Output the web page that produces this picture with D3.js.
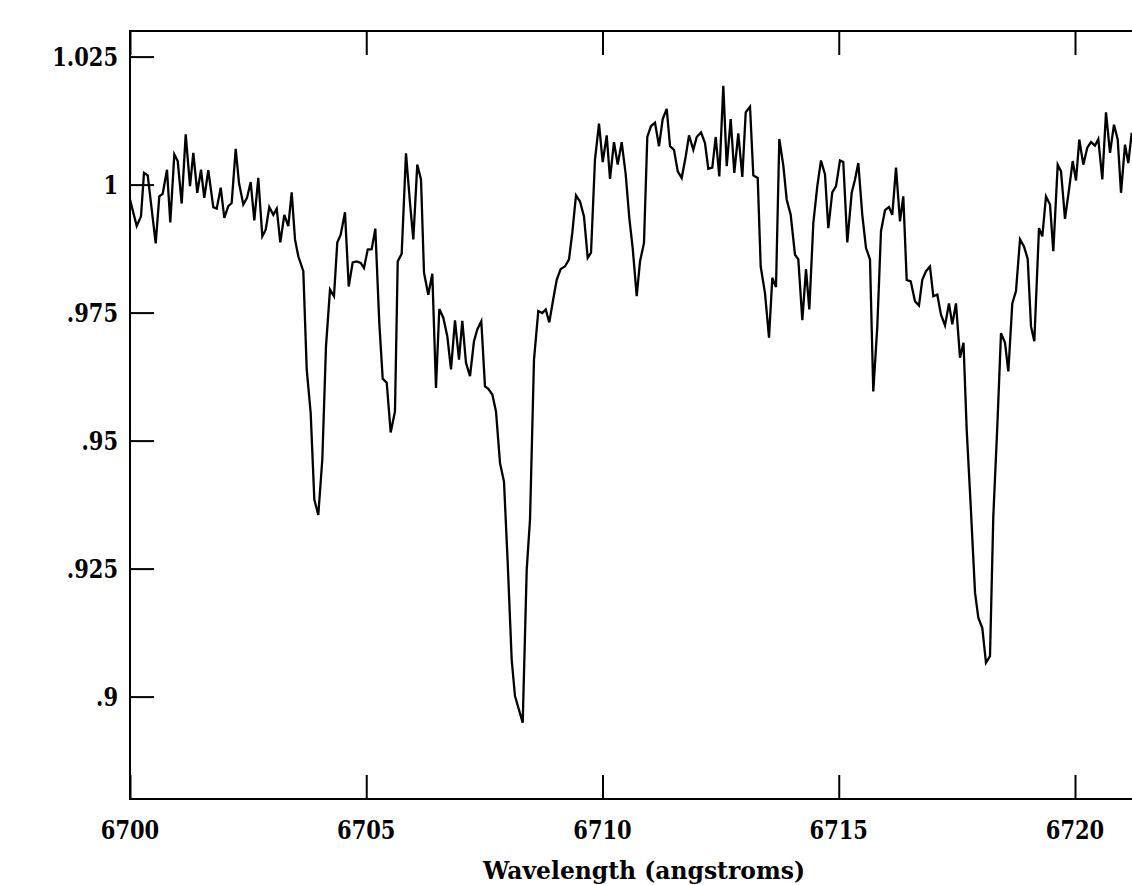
<!DOCTYPE html>
<html>
<head>
<meta charset="utf-8">
<script src="https://cdn.jsdelivr.net/npm/d3@7"></script>
<style>
  html, body { margin: 0; padding: 0; background: #fff; overflow: hidden; }
  .tick-label { font-family: "DejaVu Serif", serif; font-weight: bold; font-size: 21px; fill: #000; }
  .axis-title { font-family: "DejaVu Serif", serif; font-weight: bold; font-size: 22px; fill: #000; }
</style>
</head>
<body>
<svg id="chart" width="1132" height="885"></svg>
<script>
// Spectrum near 6700-6721 A
const wavelength = [
  6700.000, 6700.142, 6700.233, 6700.296, 6700.375, 6700.544, 6700.620, 6700.692, 6700.783, 6700.853,
  6700.938, 6701.010, 6701.094, 6701.179, 6701.270, 6701.340, 6701.424, 6701.503, 6701.572, 6701.657,
  6701.763, 6701.835, 6701.920, 6701.996, 6702.080, 6702.152, 6702.237, 6702.307, 6702.398, 6702.476,
  6702.554, 6702.631, 6702.715, 6702.800, 6702.872, 6702.948, 6703.033, 6703.105, 6703.181, 6703.266,
  6703.350, 6703.422, 6703.492, 6703.562, 6703.668, 6703.740, 6703.824, 6703.901, 6703.985, 6704.070,
  6704.148, 6704.233, 6704.317, 6704.387, 6704.459, 6704.550, 6704.629, 6704.713, 6704.798, 6704.883,
  6704.952, 6705.031, 6705.115, 6705.192, 6705.276, 6705.348, 6705.433, 6705.517, 6705.608, 6705.666,
  6705.750, 6705.841, 6705.926, 6705.996, 6706.080, 6706.159, 6706.222, 6706.313, 6706.398, 6706.476,
  6706.546, 6706.631, 6706.715, 6706.794, 6706.878, 6706.963, 6707.033, 6707.111, 6707.196, 6707.280,
  6707.350, 6707.435, 6707.513, 6707.583, 6707.668, 6707.746, 6707.831, 6707.915, 6707.994, 6708.078,
  6708.148, 6708.311, 6708.396, 6708.466, 6708.550, 6708.641, 6708.726, 6708.798, 6708.874, 6708.959,
  6709.031, 6709.115, 6709.206, 6709.291, 6709.361, 6709.439, 6709.524, 6709.608, 6709.687, 6709.757,
  6709.841, 6709.926, 6710.004, 6710.089, 6710.159, 6710.243, 6710.322, 6710.406, 6710.491, 6710.567,
  6710.639, 6710.724, 6710.794, 6710.878, 6710.948, 6711.026, 6711.111, 6711.196, 6711.274, 6711.359,
  6711.429, 6711.513, 6711.592, 6711.676, 6711.761, 6711.831, 6711.922, 6711.994, 6712.085, 6712.169,
  6712.239, 6712.324, 6712.396, 6712.472, 6712.557, 6712.629, 6712.713, 6712.789, 6712.874, 6712.959,
  6713.031, 6713.122, 6713.192, 6713.285, 6713.348, 6713.439, 6713.524, 6713.594, 6713.672, 6713.742,
  6713.827, 6713.898, 6713.983, 6714.074, 6714.144, 6714.229, 6714.307, 6714.377, 6714.462, 6714.546,
  6714.624, 6714.709, 6714.779, 6714.863, 6714.942, 6715.026, 6715.096, 6715.181, 6715.274, 6715.344,
  6715.414, 6715.498, 6715.577, 6715.661, 6715.731, 6715.816, 6715.894, 6715.979, 6716.063, 6716.133,
  6716.212, 6716.296, 6716.366, 6716.438, 6716.523, 6716.614, 6716.698, 6716.768, 6716.847, 6716.931,
  6717.001, 6717.086, 6717.164, 6717.249, 6717.333, 6717.403, 6717.481, 6717.566, 6717.640, 6717.708,
  6717.793, 6717.884, 6717.954, 6718.038, 6718.116, 6718.201, 6718.271, 6718.356, 6718.434, 6718.519,
  6718.589, 6718.673, 6718.751, 6718.836, 6718.921, 6718.999, 6719.069, 6719.139, 6719.238, 6719.308,
  6719.386, 6719.471, 6719.541, 6719.634, 6719.704, 6719.788, 6719.873, 6719.951, 6720.021, 6720.091,
  6720.176, 6720.260, 6720.339, 6720.423, 6720.493, 6720.578, 6720.656, 6720.741, 6720.825, 6720.904,
  6720.974, 6721.058, 6721.128, 6721.200, 6721.270
];

const flux = [
  0.9971, 0.9919, 0.9938, 1.0023, 1.0018, 0.9885, 0.9977, 0.9982, 1.0029, 0.9926,
  1.0059, 1.0046, 0.9963, 1.0098, 0.9997, 1.0062, 0.9984, 1.0029, 0.9974, 1.0028,
  0.9956, 0.9953, 0.9994, 0.9935, 0.9958, 0.9964, 1.0070, 1.0003, 0.9961, 0.9974,
  1.0005, 0.9930, 1.0013, 0.9899, 0.9912, 0.9956, 0.9941, 0.9953, 0.9887, 0.9941,
  0.9919, 0.9985, 0.9893, 0.9860, 0.9831, 0.9639, 0.9554, 0.9385, 0.9355, 0.9463,
  0.9684, 0.9795, 0.9782, 0.9887, 0.9902, 0.9946, 0.9801, 0.9848, 0.9850, 0.9847,
  0.9837, 0.9873, 0.9874, 0.9914, 0.9730, 0.9621, 0.9613, 0.9516, 0.9557, 0.9850,
  0.9865, 1.0061, 0.9964, 0.9893, 1.0039, 1.0010, 0.9828, 0.9785, 0.9826, 0.9603,
  0.9757, 0.9740, 0.9704, 0.9639, 0.9735, 0.9658, 0.9734, 0.9652, 0.9626, 0.9694,
  0.9717, 0.9733, 0.9606, 0.9601, 0.9590, 0.9557, 0.9456, 0.9420, 0.9261, 0.9072,
  0.9001, 0.8949, 0.9248, 0.9346, 0.9658, 0.9753, 0.9749, 0.9756, 0.9731, 0.9777,
  0.9814, 0.9835, 0.9840, 0.9854, 0.9906, 0.9979, 0.9967, 0.9938, 0.9857, 0.9867,
  1.0049, 1.0119, 1.0044, 1.0096, 1.0011, 1.0083, 1.0039, 1.0083, 1.0020, 0.9935,
  0.9876, 0.9782, 0.9850, 0.9886, 1.0093, 1.0114, 1.0121, 1.0075, 1.0128, 1.0148,
  1.0075, 1.0068, 1.0026, 1.0013, 1.0055, 1.0096, 1.0068, 1.0093, 1.0102, 1.0081,
  1.0031, 1.0033, 1.0093, 1.0016, 1.0193, 1.0036, 1.0128, 1.0023, 1.0100, 1.0015,
  1.0141, 1.0152, 1.0018, 1.0013, 0.9840, 0.9788, 0.9701, 0.9818, 0.9800, 1.0089,
  1.0037, 0.9971, 0.9941, 0.9863, 0.9854, 0.9735, 0.9835, 0.9756, 0.9925, 0.9997,
  1.0047, 1.0020, 0.9915, 0.9985, 0.9997, 1.0047, 1.0044, 0.9887, 0.9984, 1.0010,
  1.0042, 0.9941, 0.9876, 0.9854, 0.9596, 0.9723, 0.9909, 0.9950, 0.9956, 0.9941,
  1.0033, 0.9928, 0.9977, 0.9814, 0.9811, 0.9772, 0.9764, 0.9814, 0.9831, 0.9840,
  0.9782, 0.9785, 0.9746, 0.9725, 0.9768, 0.9727, 0.9768, 0.9662, 0.9691, 0.9521,
  0.9372, 0.9203, 0.9154, 0.9134, 0.9066, 0.9079, 0.9352, 0.9528, 0.9710, 0.9691,
  0.9635, 0.9768, 0.9792, 0.9893, 0.9879, 0.9855, 0.9723, 0.9694, 0.9915, 0.9899,
  0.9977, 0.9961, 0.9870, 1.0039, 1.0026, 0.9933, 0.9990, 1.0046, 1.0008, 1.0088,
  1.0039, 1.0072, 1.0083, 1.0076, 1.0089, 1.0010, 1.0141, 1.0062, 1.0117, 1.0088,
  0.9984, 1.0078, 1.0042, 1.0101, 1.0060
];

const xTicks = [6700, 6705, 6710, 6715, 6720];
const xTickLabels = ["6700", "6705", "6710", "6715", "6720"];
const yTicks = [0.9, 0.925, 0.95, 0.975, 1, 1.025];
const yTickLabels = [".9", ".925", ".95", ".975", "1", "1.025"];

const svg = d3.select('#chart');
const margin = { top: 31, left: 130, bottom: 86 };
const H = 885;

// plot extends past the right edge of the window, as in the reference
const x = d3.scaleLinear().domain([6700, 6722]).range([margin.left, margin.left + 22 * 47.25]);
const y = d3.scaleLinear().domain([0.88, 1.03]).range([H - margin.bottom, margin.top]);

const x0 = x.range()[0], x1 = x.range()[1];
const y0 = y.range()[0], y1 = y.range()[1];

// frame
svg.append('rect')
  .attr('x', x0).attr('y', y1)
  .attr('width', x1 - x0).attr('height', y0 - y1)
  .attr('fill', 'none').attr('stroke', '#000').attr('stroke-width', 2);

const tickLen = 24;

// bottom / top axes: inward ticks only, labels drawn separately
const xAxisB = d3.axisBottom(x).tickValues(xTicks).tickSizeInner(-tickLen).tickSizeOuter(0).tickFormat('');
const gxb = svg.append('g').attr('transform', `translate(0,${y0})`).call(xAxisB);
gxb.select('.domain').remove();
gxb.selectAll('line').attr('stroke', '#000').attr('stroke-width', 2);

const xAxisT = d3.axisTop(x).tickValues(xTicks).tickSizeInner(-tickLen).tickSizeOuter(0).tickFormat('');
const gxt = svg.append('g').attr('transform', `translate(0,${y1})`).call(xAxisT);
gxt.select('.domain').remove();
gxt.selectAll('line').attr('stroke', '#000').attr('stroke-width', 2);

const yAxis = d3.axisLeft(y).tickValues(yTicks).tickSizeInner(-tickLen).tickSizeOuter(0).tickFormat('');
const gy = svg.append('g').attr('transform', `translate(${x0},0)`).call(yAxis);
gy.select('.domain').remove();
gy.selectAll('line').attr('stroke', '#000').attr('stroke-width', 2);

// tick labels (font stretched vertically to match the tall plotter digits)
const sy = 1.2;
svg.append('g').selectAll('text').data(xTicks).join('text')
  .attr('class', 'tick-label')
  .attr('text-anchor', 'middle')
  .attr('transform', d => `translate(${x(d)},839) scale(1,${sy})`)
  .text((d, i) => xTickLabels[i]);

svg.append('g').selectAll('text').data(yTicks).join('text')
  .attr('class', 'tick-label')
  .attr('text-anchor', 'end')
  .attr('transform', d => `translate(118,${y(d) + 9}) scale(1,${sy})`)
  .text((d, i) => yTickLabels[i]);

// spectrum line
const pts = wavelength.map((w, i) => [w, flux[i]]);
svg.append('clipPath').attr('id', 'plotclip')
  .append('rect').attr('x', x0).attr('y', y1).attr('width', x1 - x0).attr('height', y0 - y1);
svg.append('path')
  .datum(pts)
  .attr('clip-path', 'url(#plotclip)')
  .attr('fill', 'none')
  .attr('stroke', '#000')
  .attr('stroke-width', 2.3)
  .attr('d', d3.line().x(d => x(d[0])).y(d => y(d[1])));

// axis title
svg.append('text')
  .attr('class', 'axis-title')
  .attr('text-anchor', 'middle')
  .attr('transform', `translate(644,879) scale(1,1.1)`)
  .attr('textLength', 322)
  .attr('lengthAdjust', 'spacingAndGlyphs')
  .text('Wavelength (angstroms)');
</script>
</body>
</html>
